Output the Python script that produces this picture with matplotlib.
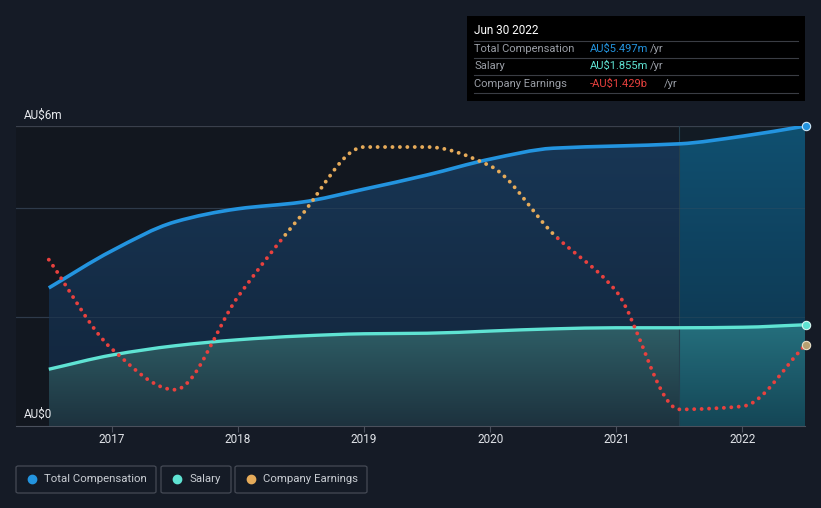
import numpy as np
import matplotlib
matplotlib.use('Agg')
import matplotlib.pyplot as plt
from matplotlib.path import Path
from matplotlib.patches import PathPatch, Rectangle, FancyBboxPatch
from matplotlib.lines import Line2D
from matplotlib.colors import to_rgba

plt.rcParams['font.family'] = ['Roboto', 'DejaVu Sans']

# данные (полугодовые отметки, 30 июня / 31 декабря)
years = [2016.5, 2017.0, 2017.5, 2018.0, 2018.5, 2019.0, 2019.5,
         2020.0, 2020.5, 2021.0, 2021.5, 2022.0, 2022.5]
total_comp = [2.53, 3.21, 3.74, 3.98, 4.10, 4.34, 4.60,
              4.89, 5.09, 5.13, 5.17, 5.31, 5.497]   # AU$ m
salary = [1.04, 1.30, 1.47, 1.58, 1.65, 1.69, 1.70,
          1.74, 1.78, 1.80, 1.80, 1.81, 1.855]       # AU$ m
earnings = [-0.30, -1.48, -2.02, -0.79, 0.28, 1.19, 1.19,
            0.94, 0.04, -0.72, -2.28, -2.24, -1.429]  # AU$ b
year_ticks = [2017, 2018, 2019, 2020, 2021, 2022]

BG = '#151b26'
BLUE = '#2394df'
TEAL = '#5fe3d3'
ORANGE = '#e6ab5a'
RED = '#e8413e'


def smooth_path(x, y, close_to=None):
    # монотонная кубическая кривая (Fritsch-Carlson) в виде кривых Безье
    x = np.asarray(x, float)
    y = np.asarray(y, float)
    h = np.diff(x)
    d = np.diff(y) / h
    m = np.zeros_like(y)
    m[0], m[-1] = d[0], d[-1]
    for i in range(1, len(y) - 1):
        if d[i - 1] * d[i] <= 0:
            m[i] = 0
        else:
            w1 = 2 * h[i] + h[i - 1]
            w2 = h[i] + 2 * h[i - 1]
            m[i] = (w1 + w2) / (w1 / d[i - 1] + w2 / d[i])
    verts = [(x[0], y[0])]
    codes = [Path.MOVETO]
    for i in range(len(x) - 1):
        verts += [(x[i] + h[i] / 3, y[i] + m[i] * h[i] / 3),
                  (x[i + 1] - h[i] / 3, y[i + 1] - m[i + 1] * h[i] / 3),
                  (x[i + 1], y[i + 1])]
        codes += [Path.CURVE4] * 3
    if close_to is not None:
        verts += [(x[-1], close_to), (x[0], close_to), (x[0], y[0])]
        codes += [Path.LINETO, Path.LINETO, Path.CLOSEPOLY]
    return Path(verts, codes)


def gradient_fill(ax, path, c_top, c_bot, x0, x1, y1, z):
    # вертикальный градиент, обрезанный по области под кривой
    t = np.linspace(0, 1, 128)[:, None]
    top, bot = np.array(to_rgba(c_top)), np.array(to_rgba(c_bot))
    img = (top * (1 - t) + bot * t)[:, None, :]
    im = ax.imshow(img, extent=(x0, x1, 0, y1), aspect='auto', origin='upper',
                   interpolation='bilinear', zorder=z)
    im.set_clip_path(path, ax.transData)


fig = plt.figure(figsize=(8.21, 5.08), dpi=100, facecolor=BG)
ax = fig.add_axes([16 / 821, 1 - 426 / 508, (805 - 16) / 821, 300 / 508])
ax.set_facecolor('#12171f')
xmin, xmax = 2016.24, 2022.496
ymax = max(total_comp)

# сетка
for gy in [2, 4]:
    ax.axhline(gy, color='#283040', lw=0.9, zorder=1)
ax.axhline(ymax, color='#3a404c', lw=0.9, zorder=1)

comp_fill = smooth_path(years, total_comp, 0)
sal_fill = smooth_path(years, salary, 0)
hl = 2021.5
gradient_fill(ax, comp_fill, '#183756', '#12243a', years[0], hl, ymax, 2)
gradient_fill(ax, sal_fill, '#2f6068', '#1d323e', years[0], hl, 1.9, 3)
gradient_fill(ax, comp_fill, '#0f4e6e', '#0c2c46', hl, xmax, ymax, 2)
gradient_fill(ax, sal_fill, '#256f7d', '#144454', hl, xmax, 1.9, 3)
ax.axvspan(hl, xmax, color='#2a8aa0', alpha=0.04, lw=0, zorder=3.7)
ax.axvline(hl, color='#24404e', lw=0.8, zorder=3.8)
# сетка поверх заливок (слабо)
for gy in [2, 4]:
    ax.axhline(gy, color='#3a5060', lw=0.7, alpha=0.35, zorder=3.9)

# линии
ax.add_patch(PathPatch(smooth_path(years, total_comp), facecolor='none',
                       edgecolor=BLUE, lw=2.6, zorder=5))
ax.add_patch(PathPatch(smooth_path(years, salary), facecolor='none',
                       edgecolor=TEAL, lw=2.4, zorder=5))
ax.plot(years[-1], total_comp[-1], 'o', ms=6, color=BLUE, mec='#cfe8f8', mew=0.8,
        zorder=8, clip_on=False)
ax.plot(years[-1], salary[-1], 'o', ms=6, color=TEAL, mec='#d8f8f4', mew=0.8,
        zorder=8, clip_on=False)
ax.set_xlim(xmin, xmax)
ax.set_ylim(0, ymax)

# прибыль компании на отдельной шкале
ax2 = ax.twinx()
ax2.set_ylim(-2.5, 1.468)
ax2.axis('off')
for col, rect in [(ORANGE, (xmin - 1, 0, 10, 10)), (RED, (xmin - 1, -10, 10, 10))]:
    pp = PathPatch(smooth_path(years, earnings), facecolor='none', edgecolor=col,
                   lw=2.8, linestyle=(0, (0.01, 1.9)), capstyle='round', zorder=6)
    ax2.add_patch(pp)
    pp.set_clip_path(Rectangle(rect[:2], rect[2], rect[3], transform=ax2.transData))
ax2.plot(years[-1], earnings[-1], 'o', ms=6, color='#b8a070', mec='#e8e0c8', mew=0.8,
         zorder=8, clip_on=False)

# оси
for s in ['top', 'right', 'left']:
    ax.spines[s].set_visible(False)
ax.spines['bottom'].set_color('#4a505c')
ax.set_yticks([])
ax.set_xticks(year_ticks)
ax.set_xticklabels([str(y) for y in year_ticks])
ax.tick_params(axis='x', colors='#4a505c', length=4, labelcolor='#e0e3e8',
               labelsize=8.5, pad=1)

fig.text(24 / 821, 1 - 115 / 508, 'AU$6m', color='#e8eaee', fontsize=8.5, va='center')
fig.text(24 / 821, 1 - 414 / 508, 'AU$0', color='#e8eaee', fontsize=8.5, va='center')

# подсказка
fig.patches.append(Rectangle((467 / 821, 1 - 101 / 508), 338 / 821, 85 / 508,
                             transform=fig.transFigure, facecolor='#000000',
                             edgecolor='none', zorder=10))
fig.text(474 / 821, 1 - 31 / 508, 'Jun 30 2022', color='white', fontsize=8.5,
         va='center', zorder=11)
rows = [('Total Compensation', 'AU$5.497m', BLUE, 49, 650),
        ('Salary', 'AU$1.855m', TEAL, 66, 650),
        ('Company Earnings', '-AU$1.429b', RED, 84, 664)]
for lab, val, col, yy, xs in rows:
    fig.text(474 / 821, 1 - yy / 508, lab, color='#9a9ea6', fontsize=8, va='center', zorder=11)
    fig.text(590 / 821, 1 - yy / 508, val, color=col, fontsize=8, va='center', zorder=11)
    fig.text(xs / 821, 1 - yy / 508, '/yr', color='#9a9ea6', fontsize=8, va='center', zorder=11)
for ly in [41, 58, 75, 93]:
    fig.lines.append(Line2D([474 / 821, 798 / 821], [1 - ly / 508] * 2,
                            transform=fig.transFigure, color='#3a3d44', lw=0.8, zorder=11))

# легенда
legend = [('Total Compensation', BLUE, 16, 156),
          ('Salary', TEAL, 161, 231),
          ('Company Earnings', ORANGE, 235, 367)]
for lab, col, x0, x1 in legend:
    fig.patches.append(FancyBboxPatch((x0 / 821, 1 - 493 / 508), (x1 - x0) / 821, 27 / 508,
                                      boxstyle='round,pad=0,rounding_size=0.003',
                                      transform=fig.transFigure, facecolor='none',
                                      edgecolor='#454a55', lw=0.9))
    fig.lines.append(Line2D([(x0 + 16) / 821], [1 - 479 / 508], marker='o', ms=6,
                            color=col, transform=fig.transFigure))
    fig.text((x0 + 28) / 821, 1 - 479 / 508, lab, color='#c8ccd2', fontsize=8.2, va='center')

fig.savefig('out.png', dpi=100, facecolor=BG)
